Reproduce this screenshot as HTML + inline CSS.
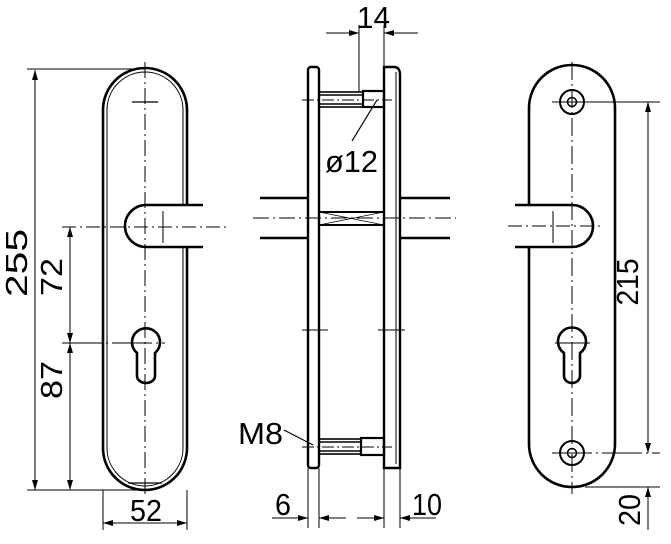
<!DOCTYPE html>
<html><head><meta charset="utf-8"><style>
html,body{margin:0;padding:0;background:#fff}
svg{display:block}
text{font-family:"Liberation Sans",sans-serif;fill:#000}
</style></head><body>
<svg width="671" height="544" viewBox="0 0 671 544" xmlns="http://www.w3.org/2000/svg">
<defs>
<marker id="a" viewBox="0 0 10 6" refX="10" refY="3" markerWidth="10" markerHeight="6" orient="auto" markerUnits="userSpaceOnUse"><path d="M0,0 L10,3 L0,6 z" fill="#000"/></marker>
</defs>
<g fill="none" stroke="#000">
<!-- LEFT VIEW -->
<path d="M187,205 L187,110 A42,42 0 0 0 103,110 L103,448 A42,42 0 0 0 187,448 L187,247" stroke-width="2.6"/>
<path d="M183,205 L183,110 A38,38 0 0 0 107,110 L107,448 A38,38 0 0 0 183,448 L183,247" stroke-width="1"/>
<path d="M203,205 L146,205 A21,21 0 0 0 146,247 L203,247" stroke-width="2.6"/>
<line x1="163" y1="211" x2="163" y2="243" stroke-width="1"/>
<line x1="62" y1="227" x2="230" y2="227" stroke-width="1" stroke-dasharray="14,4,2,4"/>
<line x1="145" y1="62" x2="145" y2="498" stroke-width="1" stroke-dasharray="16,4,2,4"/>
<line x1="132" y1="102" x2="158" y2="102" stroke-width="1.2"/>
<line x1="128" y1="483" x2="162" y2="483" stroke-width="1.2"/>
<path d="M137,353 A14,14 0 1 1 155,353 L155,376 A9,7 0 0 1 137,376 Z" stroke-width="2.6"/>
<line x1="62" y1="343" x2="165" y2="343" stroke-width="1" stroke-dasharray="40,4,2,4"/>
<!-- dims left -->
<line x1="27" y1="69" x2="145" y2="69" stroke-width="1"/>
<line x1="27" y1="490" x2="145" y2="490" stroke-width="1"/>
<line x1="35" y1="80" x2="35" y2="70" stroke-width="1" marker-end="url(#a)"/>
<line x1="35" y1="80" x2="35" y2="480" stroke-width="1"/>
<line x1="35" y1="480" x2="35" y2="490" stroke-width="1" marker-end="url(#a)"/>
<line x1="70" y1="237" x2="70" y2="227" stroke-width="1" marker-end="url(#a)"/>
<line x1="70" y1="237" x2="70" y2="333" stroke-width="1"/>
<line x1="70" y1="333" x2="70" y2="343" stroke-width="1" marker-end="url(#a)"/>
<line x1="70" y1="353" x2="70" y2="343" stroke-width="1" marker-end="url(#a)"/>
<line x1="70" y1="353" x2="70" y2="480" stroke-width="1"/>
<line x1="70" y1="480" x2="70" y2="490" stroke-width="1" marker-end="url(#a)"/>
<line x1="103" y1="490" x2="103" y2="530" stroke-width="1"/>
<line x1="187" y1="490" x2="187" y2="530" stroke-width="1"/>
<line x1="113" y1="523" x2="103" y2="523" stroke-width="1" marker-end="url(#a)"/>
<line x1="113" y1="523" x2="177" y2="523" stroke-width="1"/>
<line x1="177" y1="523" x2="187" y2="523" stroke-width="1" marker-end="url(#a)"/>

<!-- MIDDLE VIEW -->
<rect x="308" y="67" width="11" height="401" rx="3" stroke-width="2.4"/>
<path d="M384,67 L394,67 Q400,67 400,75 L400,468 L384,468 Z" stroke-width="2.4"/>
<line x1="396" y1="72" x2="396" y2="464" stroke-width="1"/>
<rect x="319" y="92" width="44" height="15" stroke-width="1.6"/>
<line x1="319" y1="95" x2="363" y2="95" stroke-width="1.5"/>
<line x1="319" y1="104" x2="363" y2="104" stroke-width="1.5"/>
<rect x="363" y="91" width="21" height="16" stroke-width="2.2"/>
<line x1="302" y1="100" x2="392" y2="100" stroke-width="1" stroke-dasharray="12,3,2,3"/>
<rect x="319" y="439" width="42" height="15" stroke-width="1.6"/>
<line x1="319" y1="442" x2="361" y2="442" stroke-width="1.5"/>
<line x1="319" y1="451" x2="361" y2="451" stroke-width="1.5"/>
<rect x="361" y="438" width="23" height="17" stroke-width="2.2"/>
<line x1="302" y1="447" x2="392" y2="447" stroke-width="1" stroke-dasharray="12,3,2,3"/>
<rect x="319" y="212" width="65" height="13" stroke-width="2"/>
<path d="M319,212 L384,225 M319,225 L384,212" stroke-width="0.8"/>
<line x1="260" y1="198" x2="308" y2="198" stroke-width="2.4"/>
<line x1="260" y1="238" x2="308" y2="238" stroke-width="2.4"/>
<line x1="400" y1="198" x2="450" y2="198" stroke-width="2.4"/>
<line x1="400" y1="238" x2="450" y2="238" stroke-width="2.4"/>
<line x1="253" y1="218" x2="456" y2="218" stroke-width="1" stroke-dasharray="16,4,2,4"/>
<line x1="302" y1="330" x2="328" y2="330" stroke-width="1"/>
<line x1="378" y1="330" x2="405" y2="330" stroke-width="1"/>
<!-- 14 -->
<line x1="359" y1="25" x2="359" y2="92" stroke-width="1"/>
<line x1="384" y1="25" x2="384" y2="67" stroke-width="1"/>
<line x1="326" y1="33" x2="359" y2="33" stroke-width="1" marker-end="url(#a)"/>
<line x1="418" y1="33" x2="384" y2="33" stroke-width="1" marker-end="url(#a)"/>
<line x1="377" y1="100" x2="352" y2="141" stroke-width="1.2"/>
<line x1="284" y1="430" x2="313" y2="445" stroke-width="1.2"/>
<!-- 6 / 10 -->
<line x1="308" y1="468" x2="308" y2="528" stroke-width="1"/>
<line x1="319" y1="468" x2="319" y2="528" stroke-width="1"/>
<line x1="384" y1="468" x2="384" y2="528" stroke-width="1"/>
<line x1="400" y1="468" x2="400" y2="528" stroke-width="1"/>
<line x1="272" y1="518" x2="308" y2="518" stroke-width="1" marker-end="url(#a)"/>
<line x1="346" y1="518" x2="319" y2="518" stroke-width="1" marker-end="url(#a)"/>
<line x1="357" y1="518" x2="384" y2="518" stroke-width="1" marker-end="url(#a)"/>
<line x1="436" y1="518" x2="400" y2="518" stroke-width="1" marker-end="url(#a)"/>

<!-- RIGHT VIEW -->
<path d="M529,205 L529,108 A43,43 0 0 1 615,108 L615,444 A43,43 0 0 1 529,444 L529,247" stroke-width="2.6"/>
<path d="M515,205 L572,205 A21,21 0 0 1 572,247 L515,247" stroke-width="2.6"/>
<line x1="553" y1="211" x2="553" y2="243" stroke-width="1"/>
<line x1="508" y1="226" x2="600" y2="226" stroke-width="1" stroke-dasharray="14,4,2,4"/>
<line x1="572" y1="62" x2="572" y2="494" stroke-width="1" stroke-dasharray="18,4,2,4"/>
<circle cx="572" cy="102" r="12" stroke-width="2"/>
<circle cx="572" cy="102" r="4.5" stroke-width="1.5"/>
<circle cx="572" cy="453" r="12" stroke-width="2"/>
<circle cx="572" cy="453" r="4.5" stroke-width="1.5"/>
<line x1="552" y1="102" x2="660" y2="102" stroke-width="1"/>
<line x1="552" y1="453" x2="660" y2="453" stroke-width="1" stroke-dasharray="40,4,2,4"/>
<path d="M564,353 A14,14 0 1 1 580,353 L580,376 A8,7 0 0 1 564,376 Z" stroke-width="2.6"/>
<line x1="555" y1="343" x2="590" y2="343" stroke-width="1"/>
<line x1="585" y1="487" x2="660" y2="487" stroke-width="1"/>
<line x1="648" y1="112" x2="648" y2="102" stroke-width="1" marker-end="url(#a)"/>
<line x1="648" y1="112" x2="648" y2="443" stroke-width="1"/>
<line x1="648" y1="443" x2="648" y2="453" stroke-width="1" marker-end="url(#a)"/>
<line x1="648" y1="530" x2="648" y2="487" stroke-width="1" marker-end="url(#a)"/>
</g>
<g font-size="31">
<text x="19" y="263" transform="rotate(-90 19 263)" text-anchor="middle" dominant-baseline="middle" textLength="68" lengthAdjust="spacingAndGlyphs">255</text>
<text x="54" y="277" transform="rotate(-90 54 277)" text-anchor="middle" dominant-baseline="middle" textLength="38" lengthAdjust="spacingAndGlyphs">72</text>
<text x="54" y="380" transform="rotate(-90 54 380)" text-anchor="middle" dominant-baseline="middle" textLength="38" lengthAdjust="spacingAndGlyphs">87</text>
<text x="130" y="521" textLength="32" lengthAdjust="spacingAndGlyphs">52</text>
<text x="357" y="28" textLength="33" lengthAdjust="spacingAndGlyphs">14</text>
<text x="325" y="172" textLength="53" lengthAdjust="spacingAndGlyphs">ø12</text>
<text x="238" y="444" textLength="45" lengthAdjust="spacingAndGlyphs">M8</text>
<text x="275" y="515" textLength="16" lengthAdjust="spacingAndGlyphs">6</text>
<text x="412" y="515" textLength="30" lengthAdjust="spacingAndGlyphs">10</text>
<text x="630" y="282" transform="rotate(-90 630 282)" text-anchor="middle" dominant-baseline="middle" textLength="47" lengthAdjust="spacingAndGlyphs">215</text>
<text x="632" y="510" transform="rotate(-90 632 510)" text-anchor="middle" dominant-baseline="middle" textLength="32" lengthAdjust="spacingAndGlyphs">20</text>
</g>
</svg>
</body></html>
